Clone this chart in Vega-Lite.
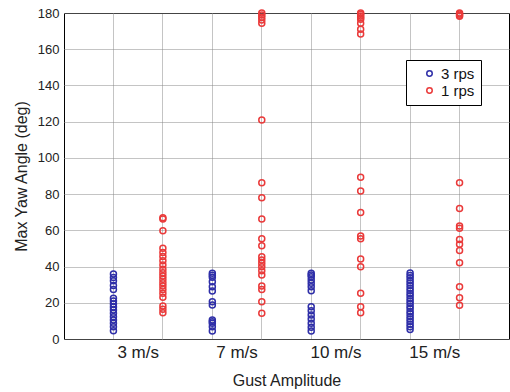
{
  "$schema": "https://vega.github.io/schema/vega-lite/v6.json",
  "width": 445,
  "height": 326,
  "autosize": {"type": "none"},
  "padding": {"left": 64, "top": 13, "right": 1, "bottom": 53},
  "background": "white",
  "config": {
    "font": "Liberation Sans",
    "view": {"stroke": "#000", "strokeWidth": 1},
    "axis": {"gridColor": "#888", "gridDash": [1, 1], "gridWidth": 1, "ticks": false, "domain": false, "labelColor": "#222", "titleColor": "#222", "titleFontWeight": "normal", "labelOverlap": false}
  },
  "data": {"values": [
    {"g":"3 m/s","r":"3 rps","y":35.9},{"g":"3 m/s","r":"3 rps","y":34.0},{"g":"3 m/s","r":"3 rps","y":32.2},{"g":"3 m/s","r":"3 rps","y":29.6},{"g":"3 m/s","r":"3 rps","y":27.4},{"g":"3 m/s","r":"3 rps","y":22.5},{"g":"3 m/s","r":"3 rps","y":21.0},{"g":"3 m/s","r":"3 rps","y":19.3},{"g":"3 m/s","r":"3 rps","y":17.7},{"g":"3 m/s","r":"3 rps","y":16.0},{"g":"3 m/s","r":"3 rps","y":14.2},{"g":"3 m/s","r":"3 rps","y":12.3},{"g":"3 m/s","r":"3 rps","y":10.5},{"g":"3 m/s","r":"3 rps","y":8.7},{"g":"3 m/s","r":"3 rps","y":6.8},{"g":"3 m/s","r":"3 rps","y":4.6},
    {"g":"3 m/s","r":"1 rps","y":66.9},{"g":"3 m/s","r":"1 rps","y":66.2},{"g":"3 m/s","r":"1 rps","y":59.8},{"g":"3 m/s","r":"1 rps","y":50.1},{"g":"3 m/s","r":"1 rps","y":47.7},{"g":"3 m/s","r":"1 rps","y":45.5},{"g":"3 m/s","r":"1 rps","y":43.2},{"g":"3 m/s","r":"1 rps","y":40.9},{"g":"3 m/s","r":"1 rps","y":38.5},{"g":"3 m/s","r":"1 rps","y":36.6},{"g":"3 m/s","r":"1 rps","y":34.8},{"g":"3 m/s","r":"1 rps","y":33.0},{"g":"3 m/s","r":"1 rps","y":31.1},{"g":"3 m/s","r":"1 rps","y":29.3},{"g":"3 m/s","r":"1 rps","y":27.4},{"g":"3 m/s","r":"1 rps","y":25.2},{"g":"3 m/s","r":"1 rps","y":23.0},{"g":"3 m/s","r":"1 rps","y":18.2},{"g":"3 m/s","r":"1 rps","y":16.4},{"g":"3 m/s","r":"1 rps","y":14.5},
    {"g":"7 m/s","r":"3 rps","y":36.3},{"g":"7 m/s","r":"3 rps","y":35.2},{"g":"7 m/s","r":"3 rps","y":34.1},{"g":"7 m/s","r":"3 rps","y":31.6},{"g":"7 m/s","r":"3 rps","y":28.9},{"g":"7 m/s","r":"3 rps","y":26.5},{"g":"7 m/s","r":"3 rps","y":20.6},{"g":"7 m/s","r":"3 rps","y":18.8},{"g":"7 m/s","r":"3 rps","y":10.5},{"g":"7 m/s","r":"3 rps","y":9.5},{"g":"7 m/s","r":"3 rps","y":8.7},{"g":"7 m/s","r":"3 rps","y":6.8},{"g":"7 m/s","r":"3 rps","y":4.4},
    {"g":"7 m/s","r":"1 rps","y":180.0},{"g":"7 m/s","r":"1 rps","y":178.9},{"g":"7 m/s","r":"1 rps","y":177.6},{"g":"7 m/s","r":"1 rps","y":176.1},{"g":"7 m/s","r":"1 rps","y":174.3},{"g":"7 m/s","r":"1 rps","y":120.9},{"g":"7 m/s","r":"1 rps","y":86.3},{"g":"7 m/s","r":"1 rps","y":78.0},{"g":"7 m/s","r":"1 rps","y":66.3},{"g":"7 m/s","r":"1 rps","y":55.4},{"g":"7 m/s","r":"1 rps","y":51.5},{"g":"7 m/s","r":"1 rps","y":45.4},{"g":"7 m/s","r":"1 rps","y":43.6},{"g":"7 m/s","r":"1 rps","y":41.8},{"g":"7 m/s","r":"1 rps","y":39.9},{"g":"7 m/s","r":"1 rps","y":37.7},{"g":"7 m/s","r":"1 rps","y":35.3},{"g":"7 m/s","r":"1 rps","y":29.3},{"g":"7 m/s","r":"1 rps","y":27.4},{"g":"7 m/s","r":"1 rps","y":20.6},{"g":"7 m/s","r":"1 rps","y":14.2},
    {"g":"10 m/s","r":"3 rps","y":36.3},{"g":"10 m/s","r":"3 rps","y":35.3},{"g":"10 m/s","r":"3 rps","y":34.4},{"g":"10 m/s","r":"3 rps","y":32.6},{"g":"10 m/s","r":"3 rps","y":30.8},{"g":"10 m/s","r":"3 rps","y":28.9},{"g":"10 m/s","r":"3 rps","y":26.7},{"g":"10 m/s","r":"3 rps","y":17.8},{"g":"10 m/s","r":"3 rps","y":15.6},{"g":"10 m/s","r":"3 rps","y":13.3},{"g":"10 m/s","r":"3 rps","y":11.0},{"g":"10 m/s","r":"3 rps","y":8.7},{"g":"10 m/s","r":"3 rps","y":6.5},{"g":"10 m/s","r":"3 rps","y":4.4},
    {"g":"10 m/s","r":"1 rps","y":180.0},{"g":"10 m/s","r":"1 rps","y":179.3},{"g":"10 m/s","r":"1 rps","y":178.4},{"g":"10 m/s","r":"1 rps","y":177.4},{"g":"10 m/s","r":"1 rps","y":176.5},{"g":"10 m/s","r":"1 rps","y":174.3},{"g":"10 m/s","r":"1 rps","y":171.0},{"g":"10 m/s","r":"1 rps","y":168.4},{"g":"10 m/s","r":"1 rps","y":89.3},{"g":"10 m/s","r":"1 rps","y":81.7},{"g":"10 m/s","r":"1 rps","y":69.8},{"g":"10 m/s","r":"1 rps","y":56.9},{"g":"10 m/s","r":"1 rps","y":55.4},{"g":"10 m/s","r":"1 rps","y":44.2},{"g":"10 m/s","r":"1 rps","y":39.9},{"g":"10 m/s","r":"1 rps","y":25.2},{"g":"10 m/s","r":"1 rps","y":17.8},{"g":"10 m/s","r":"1 rps","y":14.5},
    {"g":"15 m/s","r":"3 rps","y":36.4},{"g":"15 m/s","r":"3 rps","y":35.1},{"g":"15 m/s","r":"3 rps","y":33.8},{"g":"15 m/s","r":"3 rps","y":32.3},{"g":"15 m/s","r":"3 rps","y":30.9},{"g":"15 m/s","r":"3 rps","y":29.6},{"g":"15 m/s","r":"3 rps","y":28.0},{"g":"15 m/s","r":"3 rps","y":26.7},{"g":"15 m/s","r":"3 rps","y":25.1},{"g":"15 m/s","r":"3 rps","y":23.9},{"g":"15 m/s","r":"3 rps","y":22.4},{"g":"15 m/s","r":"3 rps","y":21.0},{"g":"15 m/s","r":"3 rps","y":19.6},{"g":"15 m/s","r":"3 rps","y":18.1},{"g":"15 m/s","r":"3 rps","y":16.8},{"g":"15 m/s","r":"3 rps","y":15.2},{"g":"15 m/s","r":"3 rps","y":13.9},{"g":"15 m/s","r":"3 rps","y":12.4},{"g":"15 m/s","r":"3 rps","y":11.0},{"g":"15 m/s","r":"3 rps","y":9.6},{"g":"15 m/s","r":"3 rps","y":8.1},{"g":"15 m/s","r":"3 rps","y":6.7},{"g":"15 m/s","r":"3 rps","y":5.2},
    {"g":"15 m/s","r":"1 rps","y":180.0},{"g":"15 m/s","r":"1 rps","y":179.4},{"g":"15 m/s","r":"1 rps","y":178.8},{"g":"15 m/s","r":"1 rps","y":178.2},{"g":"15 m/s","r":"1 rps","y":86.3},{"g":"15 m/s","r":"1 rps","y":72.0},{"g":"15 m/s","r":"1 rps","y":62.4},{"g":"15 m/s","r":"1 rps","y":61.1},{"g":"15 m/s","r":"1 rps","y":55.0},{"g":"15 m/s","r":"1 rps","y":52.3},{"g":"15 m/s","r":"1 rps","y":48.8},{"g":"15 m/s","r":"1 rps","y":42.1},{"g":"15 m/s","r":"1 rps","y":28.9},{"g":"15 m/s","r":"1 rps","y":22.8},{"g":"15 m/s","r":"1 rps","y":18.6}
  ]},
  "encoding": {
    "y": {"field": "y", "type": "quantitative", "scale": {"domain": [0, 180], "nice": false},
          "axis": {"values": [0, 20, 40, 60, 80, 100, 120, 140, 160, 180], "grid": true, "labelFontSize": 13, "labelPadding": 5, "title": "Max Yaw Angle (deg)", "titleFontSize": 16, "titlePadding": 8}},
    "xOffset": {"field": "r", "type": "nominal", "scale": {"domain": ["3 rps", "1 rps"], "paddingInner": 0.75, "paddingOuter": 0}},
    "color": {"field": "r", "type": "nominal",
              "scale": {"domain": ["3 rps", "1 rps"], "range": ["#2f2fa8", "#ea3a3a"]},
              "legend": {"orient": "none", "legendX": 342, "legendY": 47, "title": null, "strokeColor": "#000", "fillColor": "#fff", "padding": 6, "labelFontSize": 15, "labelColor": "#111", "symbolSize": 30, "symbolStrokeWidth": 1.5, "symbolOffset": 10, "rowPadding": 1}}
  },
  "layer": [
    {
      "transform": [{"filter": "datum.r === '3 rps'"}],
      "mark": {"type": "point", "shape": "circle", "filled": false, "size": 36, "strokeWidth": 1.5, "opacity": 1},
      "encoding": {
        "x": {"field": "g", "type": "nominal", "sort": null,
              "scale": {"domain": ["3 m/s", "7 m/s", "10 m/s", "15 m/s"], "paddingInner": 0.5, "paddingOuter": 0.5},
              "axis": {"orient": "bottom", "bandPosition": 0, "grid": true, "labelAngle": 0, "labelFontSize": 17, "labelPadding": 5, "title": "Gust Amplitude", "titleFontSize": 16, "titlePadding": 12}}
      }
    },
    {
      "transform": [{"filter": "datum.r === '1 rps'"}],
      "mark": {"type": "point", "shape": "circle", "filled": false, "size": 36, "strokeWidth": 1.5, "opacity": 1},
      "encoding": {
        "x": {"field": "g", "type": "nominal", "sort": null,
              "axis": {"orient": "top", "bandPosition": 1, "grid": true, "labels": false, "title": null}}
      }
    }
  ],
  "resolve": {"axis": {"x": "independent"}}
}
